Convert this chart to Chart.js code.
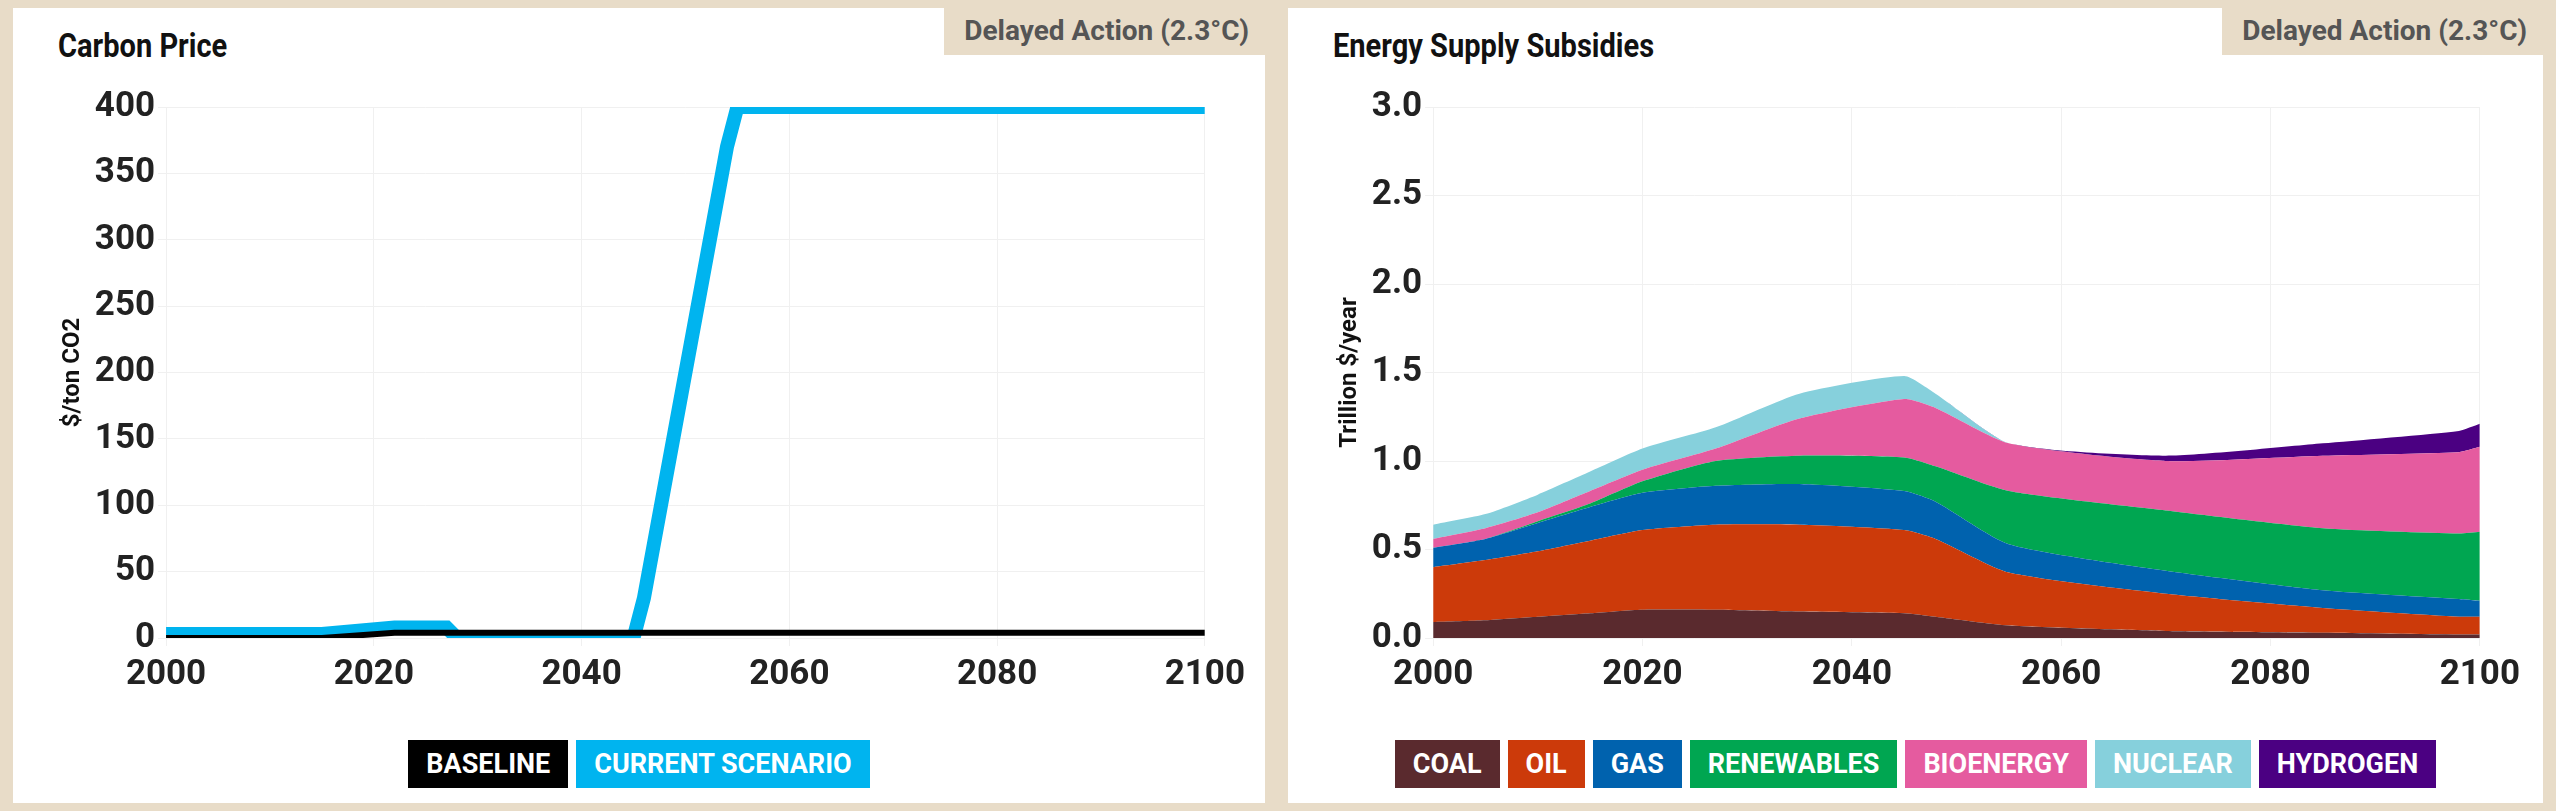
<!DOCTYPE html>
<html><head><meta charset="utf-8">
<script src="https://cdn.jsdelivr.net/npm/chart.js@4"></script>
<style>
body{margin:0;background:#e8dcc8;width:2556px;height:811px;overflow:hidden;font-family:Roboto,sans-serif;}
.panel{position:absolute;top:8px;height:795px;background:#fff;}
.title{position:absolute;left:45px;top:18px;font-size:33px;font-weight:bold;color:#111;transform:scaleX(0.88);transform-origin:left;}
.badge{position:absolute;right:0;top:0;background:#e8dcc8;color:#555;font-size:28px;font-weight:bold;padding:6px 16px 8px 20px;}
.cv{position:absolute;left:0;top:75px;}
.legend{position:absolute;top:732px;left:0;right:0;text-align:center;font-size:27px;font-weight:bold;color:#fff;}
.legend span{display:inline-block;padding:8px 18px;margin:0 4px;}
</style></head><body>
<div class="panel" style="left:13px;width:1252px">
 <div class="title">Carbon Price</div><div class="badge">Delayed Action (2.3°C)</div>
 <div class="cv" style="width:1240px;height:621px"><canvas id="c1"></canvas></div>
 <div class="legend"><span style="background:#000">BASELINE</span><span style="background:#00b4ef">CURRENT SCENARIO</span></div>
</div>
<div class="panel" style="left:1288px;width:1255px">
 <div class="title">Energy Supply Subsidies</div><div class="badge">Delayed Action (2.3°C)</div>
 <div class="cv" style="width:1240px;height:621px"><canvas id="c2"></canvas></div>
 <div class="legend" id="lg2"></div>
</div>
<script>
const baseYears=[2000,2015,2022,2100];
const baseVals=[0,0,4,4];
const curYears=[2000,2015,2022,2027,2028,2045,2046,2054,2055,2100];
const curVals=[3,3,8,8,0,0,30,370,400,400];

const years=[2000,2005,2010,2015,2020,2027,2035,2045,2048,2055,2070,2085,2098,2100];
const coal=[.09,.10,.12,.14,.16,.16,.15,.14,.12,.07,.04,.03,.02,.02];
const oil=[.31,.34,.37,.41,.45,.48,.49,.47,.44,.30,.21,.14,.10,.10];
const gas=[.11,.12,.16,.19,.21,.22,.23,.22,.21,.16,.13,.10,.10,.09];
const renew=[0,0,.01,.02,.065,.14,.16,.19,.20,.30,.34,.35,.37,.39];
const bio=[.05,.06,.05,.07,.065,.07,.21,.33,.33,.27,.28,.41,.46,.48];
const nuclear=[.08,.08,.10,.11,.12,.12,.14,.13,.08,0,0,0,0,0];
const hydrogen=[0,0,0,0,0,0,0,0,0,0,.03,.07,.12,.13];
const names=['COAL','OIL','GAS','RENEWABLES','BIOENERGY','NUCLEAR','HYDROGEN'];
const cols=['#5a2a2e','#cc3a0a','#0062ae','#00a651','#e55b9f','#86d0dc','#4b0082'];
const series=[coal,oil,gas,renew,bio,nuclear,hydrogen];

const tickFont={family:'Roboto',size:35,weight:'bold'};
const grid={color:'#f0f0f0'};
function pts(xs,ys){return xs.map((x,i)=>({x,y:ys[i]}));}
function xAxis(){return {type:'linear',min:2000,max:2100,ticks:{stepSize:20,font:tickFont,color:'#222',padding:8,callback:v=>String(v)},grid,border:{display:false}};}

new Chart(document.getElementById('c1'),{type:'line',
 data:{datasets:[
  {data:pts(baseYears,baseVals),borderColor:'#000',borderWidth:6,pointRadius:0,tension:0},
  {data:pts(curYears,curVals),borderColor:'#00b4ef',borderWidth:14,pointRadius:0,tension:0}
 ]},
 options:{responsive:true,maintainAspectRatio:false,animation:false,
  layout:{padding:{left:42,right:32}},
  plugins:{legend:{display:false},tooltip:{enabled:false}},
  scales:{x:xAxis(),y:{min:0,max:400,ticks:{stepSize:50,font:tickFont,color:'#222'},grid,border:{display:false},
   title:{display:true,text:'$/ton CO2',font:{family:'Roboto',size:24,weight:'bold'},color:'#111'}}}}});

new Chart(document.getElementById('c2'),{type:'line',
 data:{datasets:series.map((s,i)=>({label:names[i],data:pts(years,s),backgroundColor:cols[i],borderColor:cols[i],borderWidth:0,pointRadius:0,tension:0.2,fill:i===0?'origin':'-1'}))},
 options:{responsive:true,maintainAspectRatio:false,animation:false,
  layout:{padding:{left:44,right:24}},
  plugins:{legend:{display:false},tooltip:{enabled:false}},
  scales:{x:xAxis(),y:{stacked:true,min:0,max:3,ticks:{stepSize:0.5,font:tickFont,color:'#222',callback:v=>v.toFixed(1)},grid,border:{display:false},
   title:{display:true,text:'Trillion $/year',font:{family:'Roboto',size:24,weight:'bold'},color:'#111'}}}}});

document.getElementById('lg2').innerHTML=names.map((n,i)=>`<span style="background:${cols[i]}">${n}</span>`).join('');
</script></body></html>
